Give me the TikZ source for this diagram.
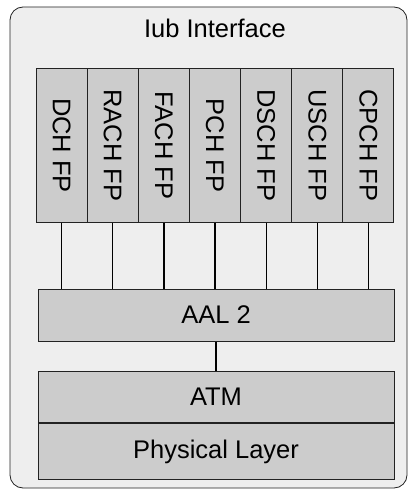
\documentclass[tikz,border=0pt]{standalone}
\usepackage{fontspec}
\setmainfont{Liberation Sans}
\usetikzlibrary{positioning, calc}
\definecolor{panelcolor}{RGB}{238, 238, 238}
\definecolor{layercolor}{RGB}{204, 204, 204}
\definecolor{edgecolor}{RGB}{34, 34, 34}
\tikzstyle{panelbox} = [
    rectangle,
    rounded corners=13pt,
    minimum width=397pt,
    minimum height=481pt,
    draw=edgecolor,
    line width=0.8pt,
    fill=panelcolor
]
\tikzstyle{fpbox} = [
    rectangle,
    rotate=-90,
    minimum width=153pt,
    minimum height=51.14pt,
    inner sep=0pt,
    text centered,
    draw=edgecolor,
    line width=1pt,
    fill=layercolor
]
\tikzstyle{layerbox} = [
    rectangle,
    minimum width=356pt,
    inner sep=0pt,
    text centered,
    draw=edgecolor,
    line width=1pt,
    fill=layercolor
]
\tikzstyle{link} = [
    line width=1.2pt,
    color=black
]

\begin{document}
\begin{tikzpicture}[x=1pt, y=-1pt, font=\fontsize{25.5}{30}\selectfont, text=black]

\useasboundingbox (0,0) rectangle (409,489);

% Outer panel
\node[panelbox] (iub) at (208.5, 247.5) {};

% Title
\node[anchor=base] (title) at (215, 37.3) {Iub Interface};

% Frame protocol boxes
\node[fpbox] (dch)  at (61.6, 145.5)  {DCH FP};
\node[fpbox] (rach) at (112.7, 145.5) {RACH FP};
\node[fpbox] (fach) at (163.9, 145.5) {FACH FP};
\node[fpbox] (pch)  at (215.0, 145.5) {PCH FP};
\node[fpbox] (dsch) at (266.1, 145.5) {DSCH FP};
\node[fpbox] (usch) at (317.3, 145.5) {USCH FP};
\node[fpbox] (cpch) at (368.4, 145.5) {CPCH FP};

% AAL 2 layer
\node[layerbox, minimum height=52pt] (aal) at (216, 315) {AAL 2};

% Links from each FP down to AAL 2
\draw[link] (dch.east)  -- (dch.east  |- aal.north);
\draw[link] (rach.east) -- (rach.east |- aal.north);
\draw[link] (fach.east) -- (fach.east |- aal.north);
\draw[link] (pch.east)  -- (pch.east  |- aal.north);
\draw[link] (dsch.east) -- (dsch.east |- aal.north);
\draw[link] (usch.east) -- (usch.east |- aal.north);
\draw[link] (cpch.east) -- (cpch.east |- aal.north);

% ATM and physical layer stack
\node[layerbox, minimum height=51.7pt] (atm) at (216, 397) {ATM};
\node[layerbox, minimum height=55.6pt, below=0pt of atm] (phy) {Physical Layer};

% AAL 2 to ATM
\draw[link] (aal.south) -- (atm.north);

\end{tikzpicture}
\end{document}
